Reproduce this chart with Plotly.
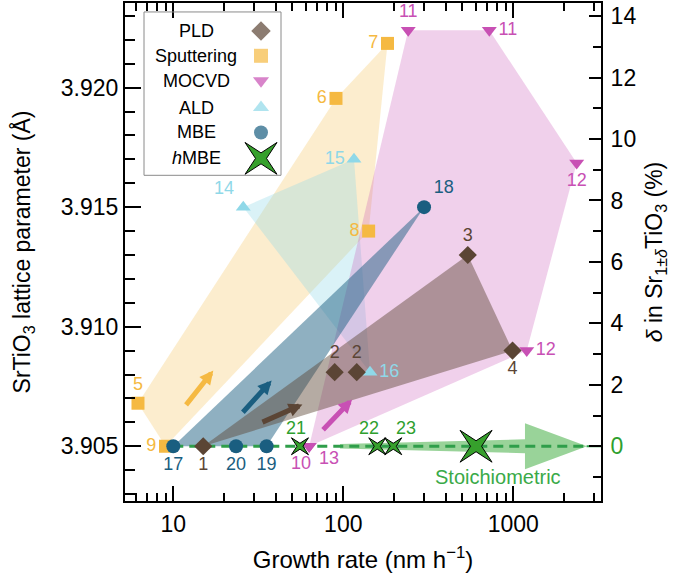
import numpy as np
import plotly.graph_objects as go

# growth rate (nm/h), SrTiO3 lattice parameter (A), reference labels
pld_rate = [15, 89, 120, 540, 990]
pld_a = [3.9050, 3.9081, 3.9081, 3.9130, 3.9090]
pld_ref = ["1", "2", "2", "3", "4"]

sput_rate = [6.2, 90.6, 182, 141, 9.0]
sput_a = [3.9068, 3.91955, 3.92185, 3.9140, 3.9050]
sput_ref = ["5", "6", "7", "8", "9"]

mocvd_rate = [63, 63, 241, 723, 2360, 1200]
mocvd_a = [3.9050, 3.9050, 3.9224, 3.9224, 3.91685, 3.9090]
mocvd_ref = ["10", "13", "11", "11", "12", "12"]

ald_rate = [25.8, 115.6, 143.6]
ald_a = [3.9150, 3.9170, 3.9081]
ald_ref = ["14", "15", "16"]

mbe_rate = [10, 23.4, 35.4, 298.6]
mbe_a = [3.9050, 3.9050, 3.9050, 3.9150]
mbe_ref = ["17", "20", "19", "18"]

hmbe_rate = [55.6, 158.5, 196.8, 604]
hmbe_a = [3.9050, 3.9050, 3.9050, 3.9050]
hmbe_ref = ["21", "22", "23", ""]

# stoichiometric line (delta = 0)
a_stoich = 3.905
pct_per_a = 1 / 0.001285      # delta (%) per Angstrom
stoich_rate = [10, 2700]

x_range = [0.716, 3.516]      # log10 of growth rate
y_range = [3.90271, 3.92354]
plot_w, plot_h = 476, 500     # plot area in px

FONT = "Liberation Sans, Arial, Helvetica, sans-serif"
GREEN = "#36a02c"

groups = [
    # name, rates, a, refs, symbol, size, marker colour, fill, label positions
    ("Sputtering", sput_rate, sput_a, sput_ref, "square", 13, "#f5b942",
     "rgba(245,185,66,0.26)",
     ["top center", "middle left", "middle left", "middle left", "middle left"]),
    ("ALD", ald_rate, ald_a, ald_ref, "triangle-up", 13, "#8fd8e8",
     "rgba(143,216,232,0.33)", ["top left", "middle left", "middle right"]),
    ("MOCVD", mocvd_rate, mocvd_a, mocvd_ref, "triangle-down", 13, "#c850b4",
     "rgba(200,80,180,0.27)",
     ["bottom center", "bottom right", "top center", "middle right",
      "bottom center", "middle right"]),
    ("MBE", mbe_rate, mbe_a, mbe_ref, "circle", 14, "#1a5e80",
     "rgba(26,94,128,0.49)",
     ["bottom center", "bottom center", "bottom center", "top right"]),
    ("PLD", pld_rate, pld_a, pld_ref, "diamond", 14, "#5b4535",
     "rgba(90,68,52,0.45)",
     ["bottom center", "top center", "top center", "top center", "bottom center"]),
]
# labels placed with a pixel shift instead of a textposition
label_shift = {("MOCVD", 0): (-8, -17), ("MOCVD", 1): (20, -12)}
hmbe_label_shift = [(-4, 18), (-8, 18), (13, 18), (0, 0)]


def hull(xs, ys):
    """Convex hull in (log x, y) space."""
    pts = sorted(set(zip(np.log10(xs), ys)))

    def cross(o, a, b):
        return (a[0] - o[0]) * (b[1] - o[1]) - (a[1] - o[1]) * (b[0] - o[0])

    lower, upper = [], []
    for p in pts:
        while len(lower) >= 2 and cross(lower[-2], lower[-1], p) <= 0:
            lower.pop()
        lower.append(p)
    for p in reversed(pts):
        while len(upper) >= 2 and cross(upper[-2], upper[-1], p) <= 0:
            upper.pop()
        upper.append(p)
    h = lower[:-1] + upper[:-1]
    h.append(h[0])
    return [10 ** p[0] for p in h], [p[1] for p in h]


def star_offsets(tip, inner):
    return [(inner, 0), (tip, tip), (0, inner), (-tip, tip), (-inner, 0),
            (-tip, -tip), (0, -inner), (tip, -tip), (inner, 0)]


px_dec = plot_w / (x_range[1] - x_range[0])
px_a = plot_h / (y_range[1] - y_range[0])


def stars(rates, a_vals, tips, inners):
    """4-pointed star outlines around points, in data units."""
    xs, ys = [], []
    for r, a, t, i in zip(rates, a_vals, tips, inners):
        for dx, dy in star_offsets(t, i):
            xs.append(r * 10 ** (dx / px_dec))
            ys.append(a + dy / px_a)
        xs.append(None)
        ys.append(None)
    return xs, ys


fig = go.Figure()

# shaded regions
for name, r, a, refs, sym, sz, col, fill, tpos in groups:
    hx, hy = hull(r, a)
    fig.add_trace(go.Scatter(x=hx, y=hy, mode="lines", fill="toself",
                             fillcolor=fill, line=dict(width=0),
                             hoverinfo="skip", showlegend=False))

# stoichiometric line
fig.add_trace(go.Scatter(x=stoich_rate, y=[a_stoich] * 2, mode="lines",
                         line=dict(color="#2f9e4a", width=3, dash="10px,6px"),
                         hoverinfo="skip", showlegend=False))
fig.add_trace(go.Scatter(x=[stoich_rate[1], 10 ** x_range[1]], y=[a_stoich] * 2,
                         mode="lines", line=dict(color="#2f9e4a", width=2),
                         hoverinfo="skip", showlegend=False))

# markers with reference numbers
for name, r, a, refs, sym, sz, col, fill, tpos in groups:
    txt = []
    for i, lab in enumerate(refs):
        if (name, i) in label_shift:
            dx, dy = label_shift[(name, i)]
            fig.add_annotation(x=np.log10(r[i]), y=a[i], text=lab, showarrow=False,
                               xshift=dx, yshift=dy,
                               font=dict(size=18, color=col, family=FONT))
            txt.append("")
        else:
            txt.append(lab)
    fig.add_trace(go.Scatter(x=r, y=a, mode="markers+text", text=txt,
                             textposition=tpos,
                             textfont=dict(size=18, color=col, family=FONT),
                             marker=dict(symbol=sym, size=sz, color=col,
                                         line=dict(width=0)),
                             name=name, showlegend=False))

# hMBE stars
sx, sy = stars(hmbe_rate, hmbe_a, [8.5, 8.5, 8.5, 16], [3, 3, 3, 5.5])
fig.add_trace(go.Scatter(x=sx, y=sy, mode="lines", fill="toself", fillcolor=GREEN,
                         line=dict(color="black", width=1), hoverinfo="skip",
                         name="hMBE", showlegend=False))
for r, a, lab, (dx, dy) in zip(hmbe_rate, hmbe_a, hmbe_ref, hmbe_label_shift):
    if lab:
        fig.add_annotation(x=np.log10(r), y=a, text=lab, showarrow=False,
                           xshift=dx, yshift=dy,
                           font=dict(size=18, color="#2ea02e", family=FONT))

# dummy trace so the right axis is drawn
fig.add_trace(go.Scatter(x=[10], y=[0], yaxis="y2", mode="markers",
                         marker=dict(opacity=0), hoverinfo="skip", showlegend=False))

# trend arrows (tail rate, tail a, head rate, head a, colour)
arrows = [
    (11.7, 3.90667, 17.2, 3.90817, "#f5b942"),
    (25.2, 3.90636, 37.9, 3.90775, "#1a5e80"),
    (32.8, 3.90598, 57.5, 3.90675, "#5b4535"),
    (74.6, 3.90563, 112.7, 3.90696, "#c850b4"),
]
for tr, ta, hr, ha, col in arrows:
    fig.add_annotation(x=np.log10(hr), y=ha, ax=np.log10(tr), ay=ta,
                       xref="x", yref="y", axref="x", ayref="y", text="",
                       showarrow=True, arrowhead=2, arrowsize=0.55,
                       arrowwidth=5, arrowcolor=col)


def pp(px, py):
    return (px - 125) / plot_w, (501 - py) / plot_h


# big translucent green arrow
arrow_px = [(340, 443.7), (525, 439), (525, 423), (587, 446),
            (525, 469), (525, 453), (340, 448.3)]
path = "M " + " L ".join(f"{pp(*p)[0]:.4f},{pp(*p)[1]:.4f}" for p in arrow_px) + " Z"
fig.add_shape(type="path", path=path, xref="paper", yref="paper", layer="below",
              fillcolor="rgba(70,175,70,0.55)", line=dict(width=0))

fig.add_annotation(x=np.log10(810), y=3.9037, text="Stoichiometric", showarrow=False,
                   font=dict(size=20, color="#3aaa48", family=FONT))

# legend (drawn by hand: label left, symbol right), pixel coordinates
leg_names = ["PLD", "Sputtering", "MOCVD", "ALD", "MBE", "<i>h</i>MBE"]
leg_symbols = ["diamond", "square", "triangle-down", "triangle-up", "circle"]
leg_colors = ["#5b4535", "#f5b942", "#c850b4", "#8fd8e8", "#1a5e80"]
leg_sizes = [15, 14, 14, 14, 14]
leg_rows = [29, 54, 79, 106, 131, 157]

fig.add_shape(type="rect", xref="x2", yref="y3", x0=144, x1=281, y0=10, y1=174,
              line=dict(color="#8a8a8a", width=1), layer="above")
for n, yrow in zip(leg_names, leg_rows):
    fig.add_annotation(x=196, y=yrow, xref="x2", yref="y3", text=n, showarrow=False,
                       font=dict(size=18, color="black", family=FONT))
fig.add_trace(go.Scatter(x=[261] * 5, y=leg_rows[:5], xaxis="x2", yaxis="y3",
                         mode="markers",
                         marker=dict(symbol=leg_symbols, size=leg_sizes, color=leg_colors,
                                     line=dict(width=0)),
                         hoverinfo="skip", showlegend=False))
lx = [261 + dx for dx, dy in star_offsets(16, 5.5)]
ly = [leg_rows[5] + dy for dx, dy in star_offsets(16, 5.5)]
fig.add_trace(go.Scatter(x=lx, y=ly, xaxis="x2", yaxis="y3", mode="lines",
                         fill="toself", fillcolor=GREEN,
                         line=dict(color="black", width=1), hoverinfo="skip",
                         showlegend=False))

minor_x = [6, 7, 8, 9] + [k * 10 for k in range(2, 10)] + [k * 100 for k in range(2, 10)] \
    + [2000, 3000]
axis_common = dict(showline=True, linecolor="black", linewidth=2, ticks="inside",
                   tickcolor="black", tickwidth=1.5, showgrid=False, zeroline=False)
d_ticks = list(range(0, 15, 2))

fig.update_layout(
    width=685, height=580,
    margin=dict(l=125, r=84, t=1, b=79),
    plot_bgcolor="white", paper_bgcolor="white",
    font=dict(family=FONT, size=23, color="black"),
    showlegend=False,
    xaxis=dict(type="log", range=x_range, tickvals=[10, 100, 1000],
               ticktext=["10", "100", "1000"], ticklen=15, mirror="ticks",
               ticklabelstandoff=1,
               minor=dict(tickvals=minor_x, ticks="inside", ticklen=8,
                          tickwidth=1.5, tickcolor="black", showgrid=False),
               title=dict(text="Growth rate (nm h<sup>−1</sup>)", standoff=16,
                          font=dict(size=24)),
               **axis_common),
    yaxis=dict(range=y_range, tickvals=[3.905, 3.910, 3.915, 3.920], tickformat=".3f",
               ticklen=16, ticklabelstandoff=0,
               minor=dict(dtick=0.001, tick0=3.905, ticks="inside", ticklen=10,
                          tickwidth=1.5, tickcolor="black", showgrid=False),
               title=dict(text="SrTiO<sub>3</sub> lattice parameter (Å)", standoff=24,
                          font=dict(size=23)),
               **axis_common),
    yaxis2=dict(overlaying="y", side="right",
                range=[(y_range[0] - a_stoich) * pct_per_a,
                       (y_range[1] - a_stoich) * pct_per_a],
                tickvals=d_ticks,
                ticktext=["<span style='color:#2ea02e'>0</span>"] + [str(v) for v in d_ticks[1:]],
                ticklen=12, ticklabelstandoff=3,
                minor=dict(dtick=1, tick0=0, ticks="inside", ticklen=8,
                           tickwidth=1.5, tickcolor="black", showgrid=False),
                title=dict(text="<i>δ</i> in Sr<sub>1±<i>δ</i></sub>TiO<sub>3</sub> (%)",
                           standoff=11, font=dict(size=23)),
                **axis_common),
    xaxis2=dict(overlaying="x", range=[125, 601], visible=False),
    yaxis3=dict(overlaying="y", range=[501, 1], visible=False),
)

fig.write_html("out.html", config={"displayModeBar": False},
               post_script="document.body.style.margin='0';")
